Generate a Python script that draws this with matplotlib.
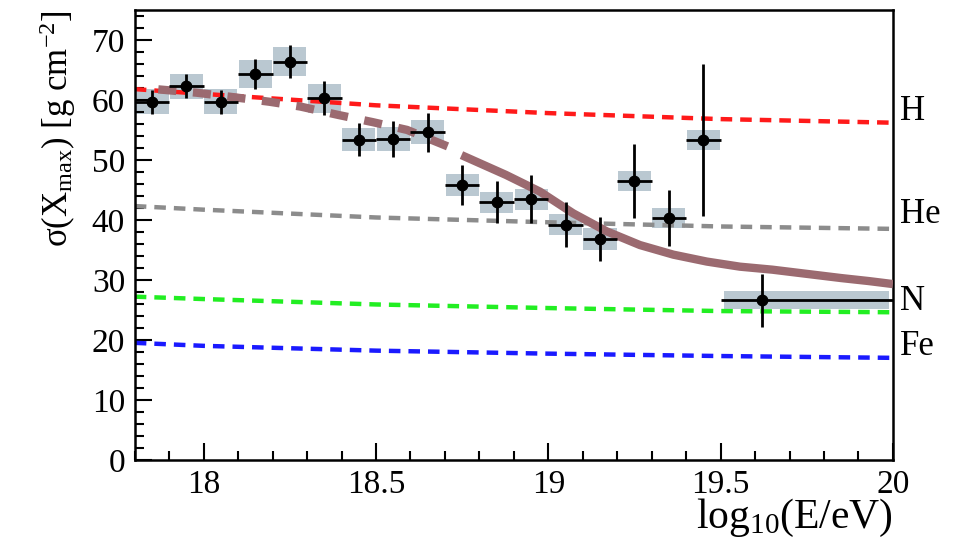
import numpy as np
import matplotlib.pyplot as plt
from matplotlib.patches import Rectangle
from matplotlib.ticker import MultipleLocator

plt.rcParams['font.family'] = ['Liberation Serif', 'DejaVu Serif']
plt.rcParams['mathtext.fontset'] = 'custom'
plt.rcParams['mathtext.rm'] = 'Liberation Serif'
plt.rcParams['mathtext.it'] = 'Liberation Serif:italic'

# Dados medidos
lgE = [17.85, 17.95, 18.05, 18.15, 18.25, 18.35, 18.45, 18.55, 18.65,
       18.75, 18.85, 18.95, 19.05, 19.15, 19.25, 19.35, 19.45, 19.62]
sigma = [59.7, 62.3, 59.7, 64.3, 66.4, 60.3, 53.4, 53.5, 54.6,
         45.8, 42.9, 43.4, 39.2, 36.8, 46.5, 40.3, 53.3, 26.6]
stat = [2.0, 2.0, 2.0, 2.5, 2.8, 2.8, 2.7, 3.0, 3.3,
        3.3, 3.5, 4.0, 3.8, 3.6, 6.2, 4.7, 12.7, 4.4]
syst = [2.1, 2.1, 2.1, 2.3, 2.4, 2.4, 2.0, 2.0, 2.0,
        1.8, 1.8, 1.8, 1.8, 1.8, 1.7, 1.7, 1.7, 1.5]
bin_lo = [17.8, 17.9, 18.0, 18.1, 18.2, 18.3, 18.4, 18.5, 18.6,
          18.7, 18.8, 18.9, 19.0, 19.1, 19.2, 19.3, 19.4, 19.5]
bin_hi = [17.9, 18.0, 18.1, 18.2, 18.3, 18.4, 18.5, 18.6, 18.7,
          18.8, 18.9, 19.0, 19.1, 19.2, 19.3, 19.4, 19.5, 20.0]

# Modelos (H, He, N, Fe)
x_mod = [17.8, 18.0, 18.5, 19.0, 19.5, 20.0]
H = [61.8, 61.0, 59.1, 57.8, 56.8, 56.2]
He = [42.3, 41.7, 40.4, 39.6, 38.9, 38.5]
N = [27.2, 26.8, 25.9, 25.3, 24.8, 24.6]
Fe = [19.5, 19.0, 18.2, 17.7, 17.3, 17.0]
labels = ['H', 'He', 'N', 'Fe']
label_y = [58.1, 40.9, 26.4, 18.9]
cores = ['#ff1a1a', '#8c8c8c', '#22ee22', '#1a1aff']

# Ajuste de mistura
x_fit = [17.82, 17.88, 17.98, 18.08, 18.19, 18.28, 18.39, 18.49, 18.59, 18.71,
         18.748, 18.877, 18.976, 19.072, 19.169, 19.266, 19.363, 19.46, 19.556,
         19.65, 19.75, 19.85, 19.93, 20.0]
y_fit = [62.0, 61.7, 61.2, 60.5, 59.7, 58.9, 57.5, 56.3, 55.0, 52.2,
         50.8, 47.5, 44.7, 41.1, 38.1, 35.8, 34.2, 33.05, 32.2,
         31.7, 31.0, 30.3, 29.8, 29.3]
x_quebra = 18.72

fig, ax = plt.subplots(figsize=(9.56, 5.52), dpi=100)
fig.subplots_adjust(left=0.141, right=0.934, top=0.982, bottom=0.167)

# caixas de sistematica
for lo, hi, s, e in zip(bin_lo, bin_hi, sigma, syst):
    w = hi - lo
    ax.add_patch(Rectangle((lo + 0.02 * w, s - e), 0.96 * w, 2 * e,
                           facecolor='#a9bbc6', alpha=0.8, edgecolor='none', zorder=1))

for y, c, lab, ly in zip([H, He, N, Fe], cores, labels, label_y):
    ax.plot(x_mod, y, color=c, lw=3.2, dashes=(2.6, 1.8), zorder=2)
    ax.text(20.02, ly, lab, fontsize=25, va='center', ha='left', clip_on=False)

x_fit = np.array(x_fit)
y_fit = np.array(y_fit)
m1 = x_fit <= x_quebra
m2 = x_fit > x_quebra
ax.plot(x_fit[m1], y_fit[m1], color='#9b6a70', lw=6, ls=(2.17, (2.17, 2.0)), zorder=3)
ax.plot(x_fit[m2], y_fit[m2], color='#9b6a70', lw=6, solid_capstyle='butt', zorder=3)

xerr = [np.array(lgE) - np.array(bin_lo), np.array(bin_hi) - np.array(lgE)]
xerr[0][:-1] = 0.05
xerr[1][:-1] = 0.05
ax.errorbar(lgE, sigma, yerr=stat, xerr=xerr, fmt='o', color='black', ms=7.5,
            elinewidth=2, capsize=0, zorder=4)

ax.set_xlim(17.8, 20)
ax.set_ylim(0, 75)
ax.xaxis.set_minor_locator(MultipleLocator(0.1))
ax.yaxis.set_major_locator(MultipleLocator(10))
ax.yaxis.set_minor_locator(MultipleLocator(2))
ax.set_xticks([18, 18.5, 19, 19.5, 20])
ax.set_xticklabels(['18', '18.5', '19', '19.5', '20'])
ax.tick_params(which='both', direction='in', top=False, right=False, labelsize=24, width=1.5)
ax.tick_params(which='major', length=12, pad=7)
ax.tick_params(which='minor', length=6.5)
for sp in ax.spines.values():
    sp.set_linewidth(1.8)

ax.set_xlabel(r'log$_{10}$(E/eV)', fontsize=30, loc='right', labelpad=-2)
ax.set_ylabel(r'σ(X$_{\rm max}$) [g cm$^{-2}$]', fontsize=25, loc='top', labelpad=10)

plt.savefig('out.png', dpi=100)
